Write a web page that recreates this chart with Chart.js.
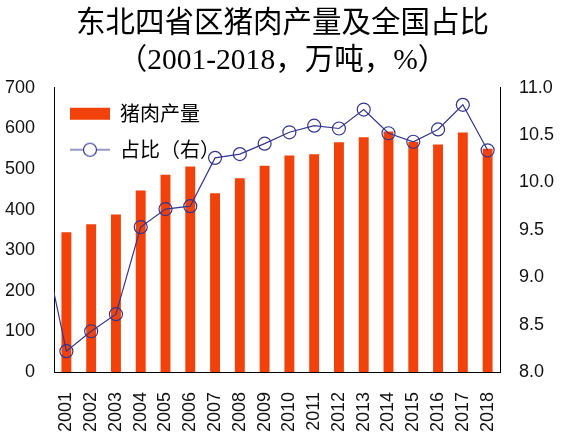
<!DOCTYPE html>
<html>
  <head>
    <meta charset="utf-8">
    <title>东北四省区猪肉产量及全国占比</title>
    <script src="https://cdn.jsdelivr.net/npm/chart.js"></script>
    <style>
      html, body { margin: 0; padding: 0; background: #fff; }
      #wrap { width: 565px; height: 441px; }
    </style>
  </head>
  <body>
    <div id="wrap"><canvas id="porkChart" width="565" height="441"></canvas></div>
    <script>
      // --- Data ---
      // 2000 is only there so the line enters from the left edge like the original
      const years = ['2000', '2001', '2002', '2003', '2004', '2005', '2006', '2007', '2008', '2009',
                     '2010', '2011', '2012', '2013', '2014', '2015', '2016', '2017', '2018'];
      const output = [null, 344, 364, 388, 447, 486, 506, 440, 477, 508,
                      533, 536, 566, 578, 592, 567, 560, 590, 550];
      const share = [9.45, 8.22, 8.43, 8.61, 9.53, 9.72, 9.75, 10.26, 10.30, 10.41,
                     10.53, 10.60, 10.57, 10.77, 10.52, 10.43, 10.56, 10.82, 10.34];
      const leftTicks = [0, 100, 200, 300, 400, 500, 600, 700];
      const rightTicks = [8.0, 8.5, 9.0, 9.5, 10.0, 10.5, 11.0];

      const BAR_COLOR = '#F0420A';
      const LINE_COLOR = '#35358F';
      const TICK_FONT = { family: "'Liberation Sans', Arial, sans-serif", size: 18 };

      // legend swatches: a box for the bars, a line with a ring for the share
      function swatch(kind) {
        const c = document.createElement('canvas');
        c.width = 40; c.height = 16;
        const g = c.getContext('2d');
        if (kind === 'bar') {
          g.fillStyle = BAR_COLOR;
          g.fillRect(0, 2, 40, 12);
        } else {
          g.strokeStyle = LINE_COLOR;
          g.lineWidth = 1.2;
          g.beginPath(); g.moveTo(0, 8); g.lineTo(40, 8); g.stroke();
          g.beginPath(); g.arc(20, 8, 6.5, 0, Math.PI * 2); g.fillStyle = '#fff'; g.fill(); g.stroke();
        }
        return c;
      }

      // the 'chartArea' legend gets top = 0 from its own update, move it into the plot
      const legendInPlot = {
        id: 'legendInPlot',
        afterLayout(chart) {
          const lg = chart.legend;
          if (!lg) return;
          const h = lg.bottom - lg.top;
          lg.top = chart.chartArea.top;
          lg.bottom = lg.top + h;
        }
      };

      const ctx = document.getElementById('porkChart').getContext('2d');
      new Chart(ctx, {
        data: {
          labels: years,
          datasets: [
            {
              type: 'line',
              label: '占比（右）',
              data: share,
              yAxisID: 'y1',
              borderColor: LINE_COLOR,
              borderWidth: 1.2,
              pointRadius: 6.5,
              pointBorderWidth: 1.2,
              pointBorderColor: LINE_COLOR,
              pointBackgroundColor: 'rgba(0,0,0,0)',
              tension: 0
            },
            {
              type: 'bar',
              label: '猪肉产量',
              data: output,
              yAxisID: 'y',
              backgroundColor: BAR_COLOR,
              barPercentage: 0.8,
              categoryPercentage: 0.5
            }
          ]
        },
        options: {
          responsive: false,
          animation: false,
          plugins: {
            title: {
              display: true,
              text: ['东北四省区猪肉产量及全国占比', '（2001-2018，万吨，%）'],
              color: '#000',
              font: { family: "'Liberation Serif', 'Noto Sans CJK SC', serif", size: 29.5, weight: 'normal', lineHeight: 1.25 },
              padding: { top: 6, bottom: 8 }
            },
            legend: {
              position: 'chartArea',
              align: 'start',
              labels: {
                usePointStyle: true,
                pointStyleWidth: 40,
                padding: 16,
                color: '#000',
                font: { family: "'Noto Sans CJK SC', sans-serif", size: 20 },
                generateLabels: () => [
                  { text: '猪肉产量', pointStyle: swatch('bar'), datasetIndex: 1, fontColor: '#000' },
                  { text: '占比（右）', pointStyle: swatch('line'), datasetIndex: 0, fontColor: '#000' }
                ]
              }
            },
            tooltip: { enabled: false }
          },
          scales: {
            x: {
              type: 'category',
              min: '2001',
              offset: true,
              grid: { display: false },
              border: { display: true, color: '#000', width: 1 },
              ticks: {
                color: '#111',
                font: TICK_FONT,
                minRotation: 90,
                maxRotation: 90,
                padding: 12,
                autoSkip: false
              },
              afterFit: s => { s.height = 69; }
            },
            y: {
              position: 'left',
              min: leftTicks[0],
              max: leftTicks[leftTicks.length - 1],
              grid: { display: false, drawTicks: false },
              border: { display: true, color: '#000', width: 1 },
              ticks: { stepSize: 100, color: '#111', font: TICK_FONT, padding: 19 },
              afterFit: s => { s.width = 54; }
            },
            y1: {
              position: 'right',
              min: rightTicks[0],
              max: rightTicks[rightTicks.length - 1],
              grid: { display: false, drawTicks: false },
              border: { display: true, color: '#000', width: 1 },
              ticks: {
                stepSize: 0.5,
                color: '#111',
                font: TICK_FONT,
                padding: 19,
                callback: v => Number(v).toFixed(1)
              },
              afterFit: s => { s.width = 65; }
            }
          }
        },
        plugins: [legendInPlot]
      });
    </script>
  </body>
</html>
